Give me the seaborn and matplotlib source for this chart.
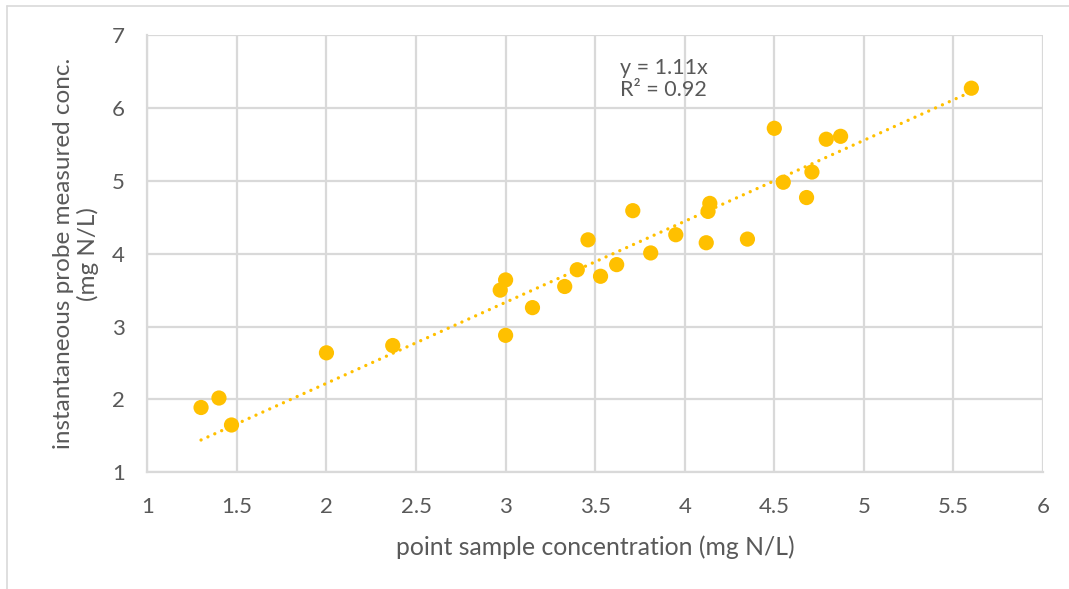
import numpy as np
import pandas as pd
import matplotlib
matplotlib.use("Agg")
import matplotlib.pyplot as plt
import seaborn as sns
from matplotlib.lines import Line2D

# Values
point_conc = [1.30, 1.40, 1.47, 2.00, 2.37, 2.97, 3.00, 3.00, 3.15, 3.33,
              3.40, 3.46, 3.53, 3.62, 3.71, 3.81, 3.95, 4.12, 4.13, 4.14,
              4.35, 4.50, 4.55, 4.68, 4.71, 4.79, 4.87, 5.60]
probe_conc = [1.89, 2.02, 1.65, 2.64, 2.74, 3.50, 3.64, 2.88, 3.26, 3.55,
              3.78, 4.19, 3.69, 3.85, 4.59, 4.01, 4.26, 4.15, 4.58, 4.69,
              4.20, 5.72, 4.98, 4.77, 5.12, 5.57, 5.61, 6.27]
x_ticks = [1, 1.5, 2, 2.5, 3, 3.5, 4, 4.5, 5, 5.5, 6]
y_ticks = [1, 2, 3, 4, 5, 6, 7]

df = pd.DataFrame({"point": point_conc, "probe": probe_conc})

gold = "#FFC000"
grey_text = "#595959"
grid_col = "#D9D9D9"

sns.set_theme(style="white")
plt.rcParams["font.family"] = ["Lato", "DejaVu Sans"]

fig = plt.figure(figsize=(10.69, 5.89), dpi=100)
ax = fig.add_axes([0.1378, 0.198, 0.8379, 0.7426])

# Linear trendline forced through the origin
x = df["point"].values
y = df["probe"].values
slope = np.sum(x * y) / np.sum(x * x)
y_hat = slope * x
r2 = 1 - np.sum((y - y_hat) ** 2) / np.sum((y - y.mean()) ** 2)
xs = np.array([x.min(), x.max()])
ax.plot(xs, slope * xs, color=gold, linewidth=2.4,
        linestyle=(0, (0.01, 2.25)), dash_capstyle="round", zorder=2)

sns.scatterplot(data=df, x="point", y="probe", ax=ax, color=gold,
                s=120, edgecolor="none", linewidth=0, zorder=3)

ax.text(3.64, 6.68, f"y = {slope:.2f}x\nR\u00b2 = {r2:.2f}", fontsize=15.5,
        color=grey_text, va="top", ha="left", linespacing=1.1)

ax.set_xlim(1, 6)
ax.set_ylim(1, 7)
ax.set_xticks(x_ticks)
ax.set_xticklabels([f"{t:g}" for t in x_ticks])
ax.set_yticks(y_ticks)
ax.grid(True, color=grid_col, linewidth=1.6)
ax.set_axisbelow(True)
for side in ["top", "right"]:
    ax.spines[side].set_visible(False)
for side in ["left", "bottom"]:
    ax.spines[side].set_color(grid_col)
    ax.spines[side].set_linewidth(1.6)
ax.tick_params(axis="both", length=0, labelsize=16, labelcolor=grey_text)
ax.tick_params(axis="x", pad=18)
ax.tick_params(axis="y", pad=16)

ax.set_xlabel("point sample concentration (mg N/L)", fontsize=17.8,
              color=grey_text)
ax.set_ylabel("instantaneous probe measured conc.\n(mg N/L)", fontsize=17.5,
              color=grey_text, linespacing=1.2)
ax.xaxis.set_label_coords(0.5, -0.171)
ax.yaxis.set_label_coords(-0.0796, 0.50)
ax.xaxis.label.set_va("center")
ax.yaxis.label.set_va("center")

# Chart-area frame (only top and left edges are visible in the crop)
fig.add_artist(Line2D([0.0066, 0.0066], [0, 0.99], transform=fig.transFigure,
                      color=grid_col, linewidth=1.2))
fig.add_artist(Line2D([0.0066, 1.0], [0.99, 0.99], transform=fig.transFigure,
                      color=grid_col, linewidth=1.2))

fig.savefig("out.png", dpi=100)
